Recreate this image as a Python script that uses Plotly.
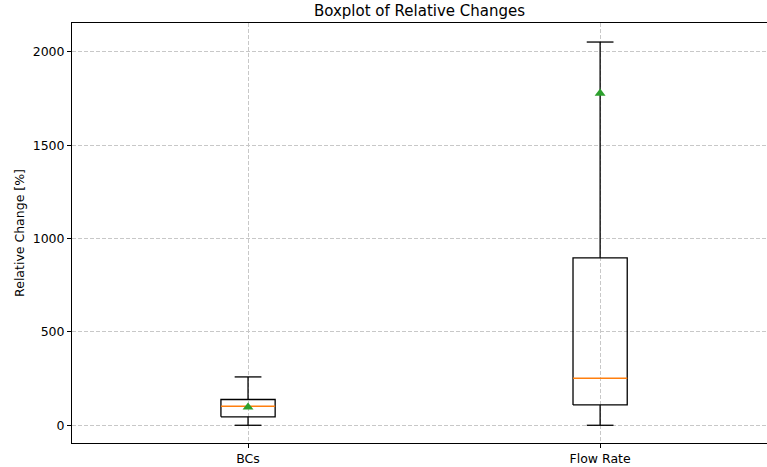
import plotly.graph_objects as go

# Summary statistics of the relative changes [%]
categories = ["BCs", "Flow Rate"]
lower_whisker = [0, 0]
q1 = [45, 109]
median = [102, 252]
q3 = [138, 897]
upper_whisker = [259, 2053]
mean = [97, 1778]

positions = [1, 2]
box_half = 0.077
cap_half = 0.038

fig = go.Figure()
line_black = dict(color="black", width=1.3)

for i, pos in enumerate(positions):
    # box outline
    fig.add_trace(go.Scatter(
        x=[pos - box_half, pos + box_half, pos + box_half, pos - box_half, pos - box_half],
        y=[q1[i], q1[i], q3[i], q3[i], q1[i]],
        mode="lines", line=line_black, hoverinfo="skip", showlegend=False))
    # whiskers and caps
    fig.add_trace(go.Scatter(
        x=[pos, pos, None, pos, pos, None,
           pos - cap_half, pos + cap_half, None, pos - cap_half, pos + cap_half],
        y=[q1[i], lower_whisker[i], None, q3[i], upper_whisker[i], None,
           lower_whisker[i], lower_whisker[i], None, upper_whisker[i], upper_whisker[i]],
        mode="lines", line=line_black, hoverinfo="skip", showlegend=False))
    # median
    fig.add_trace(go.Scatter(
        x=[pos - box_half, pos + box_half], y=[median[i], median[i]],
        mode="lines", line=dict(color="#ff7f0e", width=1.5),
        hoverinfo="skip", showlegend=False))

# means
fig.add_trace(go.Scatter(
    x=positions, y=mean, mode="markers",
    marker=dict(symbol="triangle-up", color="#2ca02c", size=9.5),
    showlegend=False))

grid = dict(showgrid=True, gridcolor="#c8c8c8", griddash="4px,2px", gridwidth=1)

fig.update_layout(
    width=767, height=467,
    margin=dict(l=72, r=0, t=23, b=24),
    paper_bgcolor="white", plot_bgcolor="white",
    font=dict(family="DejaVu Sans", size=12.5, color="black"),
    title=dict(text="Boxplot of Relative Changes", x=0.5, xref="paper",
               y=1 - 11 / 467, yanchor="middle", font=dict(size=15)),
    showlegend=False,
)
fig.update_xaxes(
    range=[0.5, 2.474], tickvals=positions, ticktext=categories,
    showline=True, linecolor="black", linewidth=1, mirror=True,
    ticks="outside", ticklen=4, tickcolor="black",
    zeroline=False, **grid,
)
fig.update_yaxes(
    range=[-95, 2155], tickvals=[0, 500, 1000, 1500, 2000],
    showline=True, linecolor="black", linewidth=1,
    ticks="outside", ticklen=4, tickcolor="black",
    zeroline=False, **grid,
    title=dict(text="Relative Change [%]", standoff=5, font=dict(size=12.5)),
)

fig.write_html("out.html")
